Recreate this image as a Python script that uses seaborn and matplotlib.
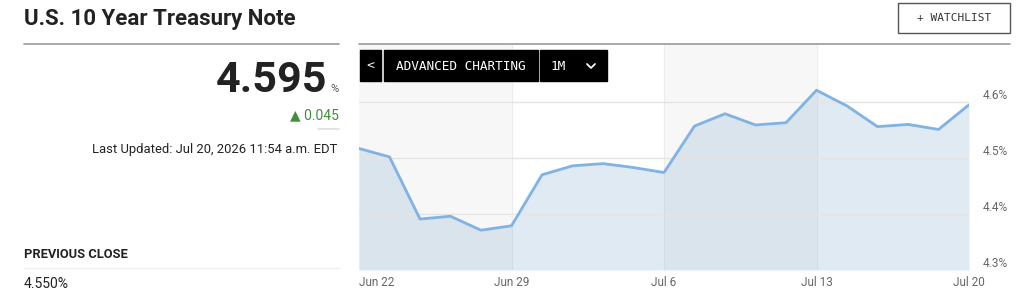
import numpy as np
import pandas as pd
import matplotlib
matplotlib.use("Agg")
import matplotlib.pyplot as plt
import seaborn as sns
from matplotlib.patches import Rectangle
from matplotlib.lines import Line2D

# trading days, Jun 22 - Jul 20 2026
dates = pd.bdate_range("2026-06-22", "2026-07-20")
yields = [4.517, 4.502, 4.391, 4.396, 4.371, 4.379, 4.470, 4.486, 4.490, 4.483, 4.474,
          4.557, 4.579, 4.559, 4.563, 4.621, 4.593, 4.556, 4.560, 4.551, 4.595]
tick_pos = [0, 5, 10, 15, 20]
tick_labels = ["Jun 22", "Jun 29", "Jul 6", "Jul 13", "Jul 20"]
y_ticks = [4.3, 4.4, 4.5, 4.6]
y_tick_labels = ["4.3%", "4.4%", "4.5%", "4.6%"]

title = "U.S. 10 Year Treasury Note"
last_price = "4.595"
change = "0.045"
updated = "Last Updated: Jul 20, 2026 11:54 a.m. EDT"
prev_close = "4.550%"

df = pd.DataFrame({"i": np.arange(len(dates)), "date": dates, "yield": yields})

sns.set_style("white")
plt.rcParams["font.family"] = ["Roboto", "DejaVu Sans"]

W, H = 1024, 308
fig = plt.figure(figsize=(W / 100, H / 100), dpi=100)


def fx(x):
    return x / W


def fy(y):
    return 1 - y / H


# chart area
ax = fig.add_axes([fx(359), fy(270), (969 - 359) / W, (270 - 45) / H])
ax.set_xlim(0, 20)
ax.set_ylim(4.3, 4.3 + 225 / 560)

# alternating week bands
for a, b in [(0, 5), (10, 15)]:
    ax.axvspan(a, b, color="#f7f7f7", lw=0, zorder=0)
for p in tick_pos[1:-1]:
    ax.axvline(p, color="#ececec", lw=0.8, zorder=0.5)

ax.fill_between(df["i"], df["yield"], 4.3, color="#83afd3", alpha=0.25, lw=0, zorder=1)
for v in y_ticks[1:]:
    ax.axhline(v, color="#e4e4e4", lw=1, zorder=1.5)
sns.lineplot(data=df, x="i", y="yield", ax=ax, color="#80b2e3", lw=2, zorder=3)

for s in ax.spines.values():
    s.set_visible(False)
ax.set_xlabel("")
ax.set_ylabel("")
ax.set_xticks(tick_pos)
ax.set_xticklabels(tick_labels, fontsize=8.5, color="#666666")
ax.tick_params(axis="x", length=3, width=0.8, color="#dddddd", pad=1)
ax.get_xticklabels()[0].set_ha("left")
ax.yaxis.tick_right()
ax.set_yticks(y_ticks)
ax.set_yticklabels(y_tick_labels, fontsize=8.5, color="#666666")
ax.tick_params(axis="y", length=0, pad=10)
for t in ax.get_yticklabels():
    t.set_va("bottom")

# header rules
fig.add_artist(Line2D([fx(24), fx(339)], [fy(44), fy(44)], color="#999999", lw=1.2))
fig.add_artist(Line2D([fx(359), fx(1010)], [fy(44), fy(44)], color="#999999", lw=1.2))

fig.text(fx(24), fy(19), title, fontsize=16, fontweight="bold", color="#222222", va="center")

# quote block
fig.text(fx(327), fy(81), last_price, fontsize=31, fontweight="bold", color="#222222",
         ha="right", va="center")
fig.text(fx(330), fy(89), "%", fontsize=8, color="#555555", ha="left", va="center")
fig.text(fx(339), fy(115), "\u25b2 " + change, fontsize=10, color="#3d8f3d", ha="right", va="center",
         family=["Roboto", "DejaVu Sans"])
fig.add_artist(Line2D([fx(318), fx(339)], [fy(129), fy(129)], color="#dddddd", lw=1.2))
fig.text(fx(337), fy(149), updated, fontsize=9.4, color="#222222", ha="right", va="center")

fig.text(fx(24), fy(254), "PREVIOUS CLOSE", fontsize=9.3, fontweight="bold", color="#222222", va="center")
fig.add_artist(Line2D([fx(24), fx(339)], [fy(268), fy(268)], color="#eeeeee", lw=1))
fig.text(fx(24), fy(284), prev_close, fontsize=10, color="#222222", va="center")


# buttons
def box(x0, x1, y0, y1, fc, ec):
    fig.add_artist(Rectangle((fx(x0), fy(y1)), fx(x1 - x0), (y1 - y0) / H,
                             transform=fig.transFigure, facecolor=fc, edgecolor=ec, lw=1))


mono = "DejaVu Sans Mono"
box(360, 381, 50, 81, "#000000", "#000000")
box(384, 538, 50, 81, "#000000", "#000000")
box(540, 607, 50, 81, "#000000", "#000000")
fig.text(fx(370.5), fy(66), "<", fontsize=9.5, color="white", ha="center", va="center", family=mono)
fig.text(fx(461), fy(66), "ADVANCED CHARTING", fontsize=9.2, color="white", ha="center", va="center",
         family=mono)
fig.text(fx(551), fy(66), "1M", fontsize=9.2, color="white", ha="left", va="center", family=mono)
# dropdown chevron
fig.add_artist(Line2D([fx(587), fx(591), fx(595)], [fy(64), fy(68), fy(64)], color="white", lw=1.3))

box(898, 1010, 3, 33, "white", "#555555")
fig.text(fx(954), fy(18), "+ WATCHLIST", fontsize=8, color="#333333", ha="center", va="center",
         family=mono)

fig.savefig("out.png", dpi=100)
